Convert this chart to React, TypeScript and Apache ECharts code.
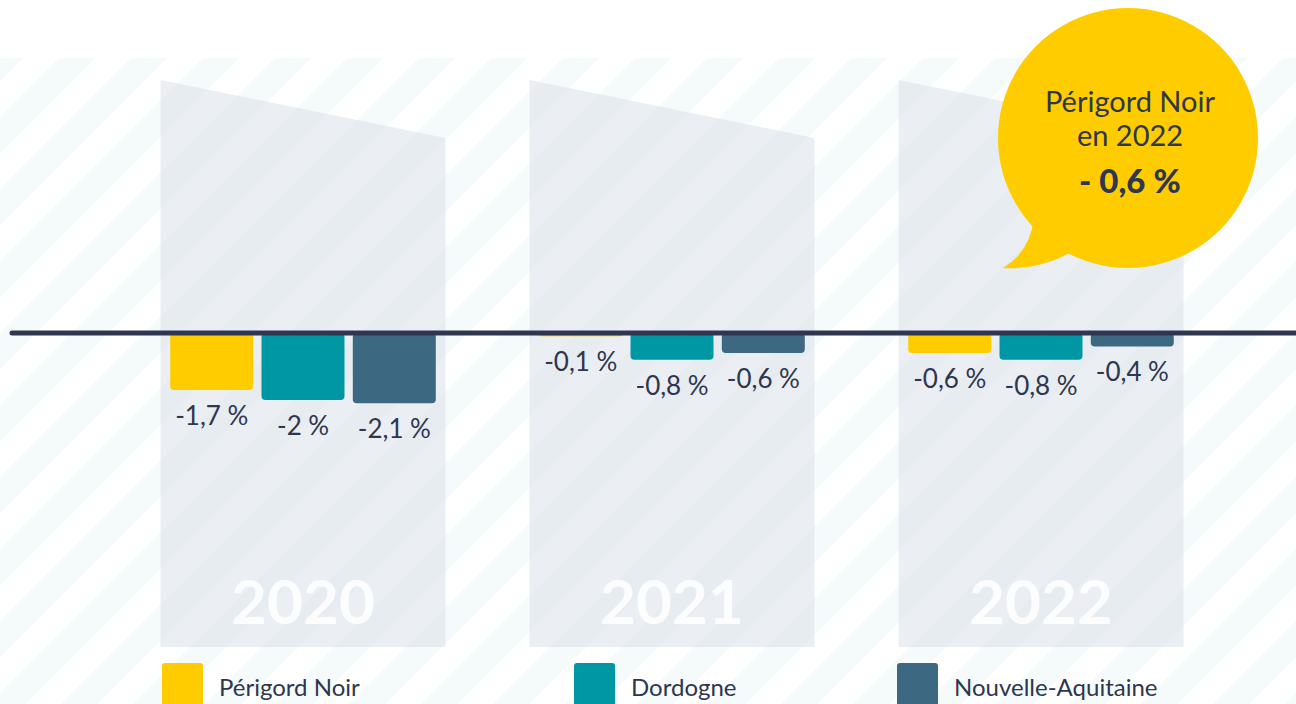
import React, { useEffect, useRef } from "react";
import * as echarts from "echarts";

const years = ["2020", "2021", "2022"];
const seriesNames = ["Périgord Noir", "Dordogne", "Nouvelle-Aquitaine"];
const perigordNoir = [-1.7, -0.1, -0.6];
const dordogne = [-2.0, -0.8, -0.8];
const nouvelleAquitaine = [-2.1, -0.6, -0.4];
const seriesValues = [perigordNoir, dordogne, nouvelleAquitaine];
const colors = ["#ffcc00", "#0097a4", "#3d6882"];
const bubbleTitle = ["Périgord Noir", "en 2022"];
const bubbleValue = perigordNoir[2];

const INK = "#2e3650";
const FONT = "Lato, 'Noto Sans', sans-serif";

const fmt = (v: number) => `${String(v).replace(".", ",")}\u202f%`;
const fmtBubble = (v: number) =>
  `${v < 0 ? "- " : ""}${String(Math.abs(v)).replace(".", ",")}\u202f%`;

echarts.graphic.registerShape(
  "bubbleTail",
  echarts.graphic.extendPath("M 1034 218 Q 1030 252 1003 268 Q 1042 270 1075 250 Z", {})
);

export default function App() {
  const ref = useRef<HTMLDivElement>(null);
  useEffect(() => {
    document.body.style.margin = "0";
    const chart = echarts.init(ref.current!, null, { renderer: "svg" });

    const stripes: any[] = [];
    for (let k = -2; k < 30; k++) {
      const top = 58;
      const bot = 704;
      const x0 = 117 - top + 72 * k;
      const x1 = 117 - bot + 72 * k;
      stripes.push({
        type: "polygon",
        shape: {
          points: [
            [x0, top],
            [x0 + 36, top],
            [x1 + 36, bot],
            [x1, bot],
          ],
        },
        style: { fill: "#f5fafa" },
        silent: true,
      });
    }

    const legends = seriesNames.map((n, i) => ({
      data: [n],
      left: [162, 574, 897][i],
      top: 663,
      padding: 0,
      itemWidth: 41,
      itemHeight: 46,
      icon: "path://M3,0 H38 Q41,0 41,3 V43 Q41,46 38,46 H3 Q0,46 0,43 V3 Q0,0 3,0 Z",
      textStyle: { color: INK, fontSize: 24, fontFamily: FONT, padding: [0, 0, 0, 11] },
      selectedMode: false,
    }));

    const option: any = {
      animation: false,
      backgroundColor: "#ffffff",
      grid: { left: 118.5, right: 70.5, top: 266, height: 335 },
      xAxis: {
        type: "category",
        data: years,
        show: false,
      },
      yAxis: { type: "value", min: -8, max: 2, show: false },
      legend: legends,
      series: [
        {
          type: "custom",
          z: 1,
          silent: true,
          clip: false,
          data: years.map((_, i) => [i]),
          encode: { x: 0 },
          renderItem: (params: any, api: any) => {
            const c = api.coord([api.value(0), 0]);
            const bw = api.size([1, 0])[0] * 0.772;
            const xl = c[0] - bw / 2;
            const xr = c[0] + bw / 2;
            const y0 = c[1];
            return {
              type: "group",
              children: [
                {
                  type: "polygon",
                  shape: {
                    points: [
                      [xl, y0 - 253],
                      [xr, y0 - 195],
                      [xr, y0 + 314],
                      [xl, y0 + 314],
                    ],
                  },
                  style: { fill: "#dfe3ea", opacity: 0.62 },
                },
                {
                  type: "text",
                  style: {
                    text: years[params.dataIndex],
                    x: c[0],
                    y: y0 + 267,
                    align: "center",
                    verticalAlign: "middle",
                    fontSize: 62,
                    fontWeight: "bold",
                    fontFamily: FONT,
                    fill: "rgba(255,255,255,0.85)",
                  },
                },
              ],
            };
          },
        },
        ...seriesNames.map((n, i) => ({
          name: n,
          type: "bar",
          z: 2,
          data: seriesValues[i],
          barWidth: 83,
          barGap: "10%",
          itemStyle: { color: colors[i], borderRadius: 4 },
          label: {
            show: true,
            position: "bottom",
            distance: 12,
            color: INK,
            fontSize: 26,
            fontFamily: FONT,
            formatter: (p: any) => fmt(p.value),
          },
        })),
      ],
    };
    chart.setOption(option);

    const y0 = chart.convertToPixel({ yAxisIndex: 0 }, 0) as number;
    chart.setOption({
      graphic: [
        { type: "group", z: 0, silent: true, children: stripes },
        {
          type: "line",
          z: 10,
          silent: true,
          shape: { x1: 12, y1: y0, x2: 1300, y2: y0 },
          style: { stroke: INK, lineWidth: 5, lineCap: "round" },
        },
        {
          type: "circle",
          z: 11,
          silent: true,
          shape: { cx: 1128, cy: 138, r: 130 },
          style: { fill: colors[0] },
        },
        {
          type: "bubbleTail",
          z: 11,
          silent: true,
          x: 0,
          y: 0,
          style: { fill: colors[0] },
        },
        {
          type: "text",
          z: 12,
          silent: true,
          style: {
            text: bubbleTitle[0],
            x: 1130,
            y: 100,
            align: "center",
            verticalAlign: "middle",
            fontSize: 29,
            fontFamily: FONT,
            fill: INK,
          },
        },
        {
          type: "text",
          z: 12,
          silent: true,
          style: {
            text: bubbleTitle[1],
            x: 1130,
            y: 134,
            align: "center",
            verticalAlign: "middle",
            fontSize: 29,
            fontFamily: FONT,
            fill: INK,
          },
        },
        {
          type: "text",
          z: 12,
          silent: true,
          style: {
            text: fmtBubble(bubbleValue),
            x: 1130,
            y: 180,
            align: "center",
            verticalAlign: "middle",
            fontSize: 33,
            fontWeight: 900,
            fontFamily: FONT,
            fill: INK,
          },
        },
      ],
    });

    return () => chart.dispose();
  }, []);
  return (
    <div
      ref={ref}
      style={{ position: "fixed", left: 0, top: 0, width: 1296, height: 704 }}
    />
  );
}
